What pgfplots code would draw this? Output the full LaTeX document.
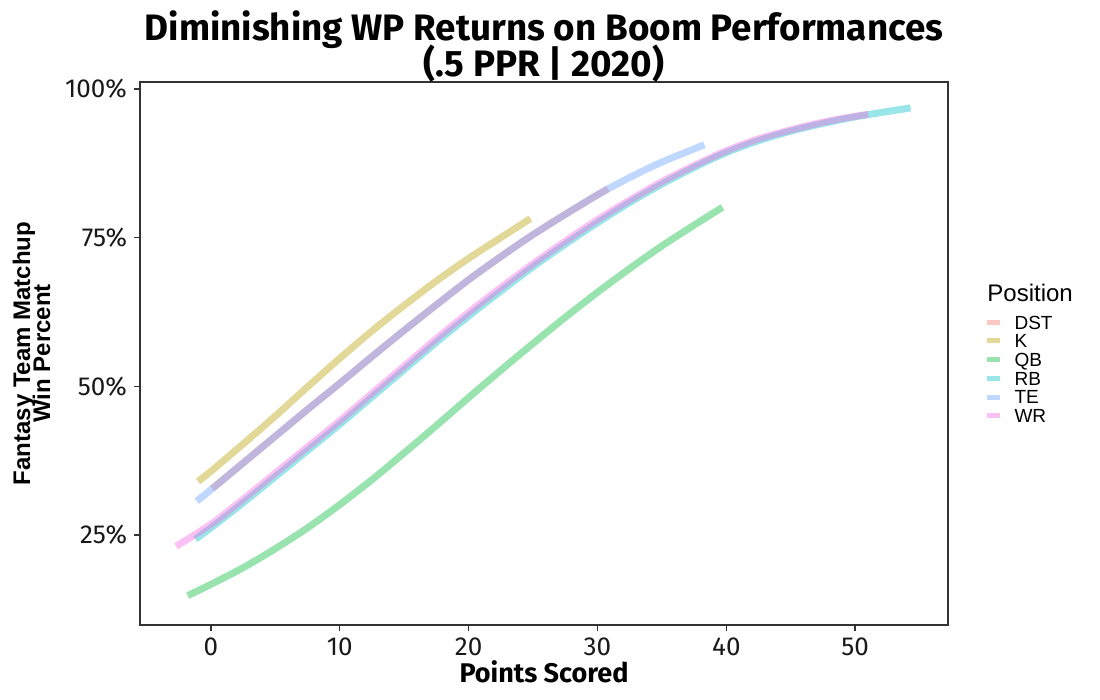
\documentclass[border=0pt]{standalone}
\usepackage{fontspec}
\setmainfont{Fira Sans}
\newfontfamily\arial{Liberation Sans}
\usepackage{pgfplots}
\pgfplotsset{compat=1.18}

\definecolor{cDST}{HTML}{F8766D}
\definecolor{cK}{HTML}{B79F00}
\definecolor{cQB}{HTML}{00BA38}
\definecolor{cRB}{HTML}{00BFC4}
\definecolor{cTE}{HTML}{619CFF}
\definecolor{cWR}{HTML}{F564E3}
\definecolor{axgray}{HTML}{333333}

\pgfplotsset{
  wp/.style={draw=#1, draw opacity=0.4, line width=3.5bp, line join=round, smooth, no marks},
}

\begin{document}
\begin{tikzpicture}
\useasboundingbox (0,0) rectangle (550bp,350bp);

\begin{axis}[
  at={(70bp,37.5bp)}, anchor=south west,
  scale only axis,
  width=404bp, height=271.5bp,
  xmin=-5.5, xmax=57.2,
  ymin=9.87, ymax=101.16,
  xtick={0,10,20,30,40,50},
  ytick={25,50,75,100},
  yticklabels={25\%,50\%,75\%,100\%},
  tick align=outside,
  xtick pos=bottom, ytick pos=left,
  major tick length=3bp,
  axis line style={draw=axgray, line width=0.75bp},
  tick style={draw=axgray, line width=0.75bp},
  tick label style={font=\fontsize{13bp}{13bp}\selectfont, text=black!90},
  /pgf/number format/assume math mode=true,
  legend cell align=left,
  legend image code/.code={
    \draw[#1, line width=2.5bp] (0bp,0bp) -- (6.5bp,0bp);
    \path[draw=none] (0bp,0bp) -- (14bp,0bp);
  },
  legend style={
    at={(1.0446,0.570)}, anchor=north west,
    draw=none, fill=none, inner sep=0pt, outer sep=0pt,
    row sep=2.55bp,
    font=\arial\fontsize{9.5bp}{9.5bp}\selectfont,
    nodes={inner sep=0pt, text height=6.8bp, text depth=0pt},
  },
]

% DST
\addplot[wp=cDST] coordinates {
  (0.1,32.8) (2.5,37.1) (5,41.6) (7.5,46.1) (10,50.5) (12.5,55.0) (15,59.4)
  (17.5,63.7) (20,67.9) (22.5,71.8) (25,75.5) (27.5,78.9) (30.8,83.2)
};
\addlegendentry{DST}

% K
\addplot[wp=cK] coordinates {
  (-1,34.0) (0,35.7) (2.5,40.3) (5,45.0) (7.5,49.9) (10,54.7) (12.5,59.3)
  (15,63.6) (17.5,67.7) (20,71.5) (22.5,75.0) (24.8,78.2)
};
\addlegendentry{K}

% QB
\addplot[wp=cQB] coordinates {
  (-1.8,14.8) (0,16.7) (2.5,19.5) (5,22.7) (7.5,26.2) (10,30.1) (12.5,34.3)
  (15,38.8) (17.5,43.4) (20,48.1) (22.5,52.7) (25,57.2) (27.5,61.6)
  (30,65.8) (32.5,69.8) (35,73.6) (37.5,77.1) (39.7,80.1)
};
\addlegendentry{QB}

% RB
\addplot[wp=cRB] coordinates {
  (-1.2,24.3) (0,26.2) (2.5,30.4) (5,34.8) (7.5,39.2) (10,43.6) (12.5,48.2)
  (15,52.8) (17.5,57.4) (20,61.8) (22.5,66.0) (25,70.1) (27.5,73.9)
  (30,77.5) (32.5,80.9) (35,84.0) (37.5,86.8) (40,89.3) (42.5,91.3)
  (45,92.9) (47.5,94.2) (50,95.3) (52.5,96.2) (54.3,96.8)
};
\addlegendentry{RB}

% TE
\addplot[wp=cTE] coordinates {
  (-1.1,30.7) (0,32.6) (2.5,37.1) (5,41.6) (7.5,46.1) (10,50.5) (12.5,55.0)
  (15,59.4) (17.5,63.7) (20,67.9) (22.5,71.8) (25,75.5) (27.5,78.9)
  (30,82.2) (32.5,85.1) (35,87.7) (38.3,90.6)
};
\addlegendentry{TE}

% WR
\addplot[wp=cWR] coordinates {
  (-2.7,23.1) (0,26.8) (2.5,31.0) (5,35.4) (7.5,39.8) (10,44.2) (12.5,48.8)
  (15,53.4) (17.5,58.0) (20,62.4) (22.5,66.6) (25,70.6) (27.5,74.4)
  (30,78.0) (32.5,81.3) (35,84.4) (37.5,87.1) (40,89.6) (42.5,91.6)
  (45,93.1) (47.5,94.4) (50,95.4) (51.0,95.7)
};
\addlegendentry{WR}

\end{axis}

% titles and labels
\node[anchor=base, inner sep=0pt, font=\bfseries\fontsize{18.4bp}{18.4bp}\selectfont] at (272bp,329.5bp)
  {Diminishing WP Returns on Boom Performances};
\node[anchor=base, inner sep=0pt, font=\bfseries\fontsize{18.4bp}{18.4bp}\selectfont] at (272bp,311.5bp)
  {(.5 PPR | 2020)};
\node[anchor=base, inner sep=0pt, font=\bfseries\fontsize{13.5bp}{13.5bp}\selectfont] at (272bp,9bp)
  {Points Scored};
\node[rotate=90, anchor=base, inner sep=0pt, font=\arial\bfseries\fontsize{12bp}{12bp}\selectfont] at (15bp,173.25bp)
  {Fantasy Team Matchup};
\node[rotate=90, anchor=base, inner sep=0pt, font=\arial\bfseries\fontsize{12bp}{12bp}\selectfont] at (25bp,173.25bp)
  {Win Percent};
\node[anchor=base west, inner sep=0pt, font=\arial\fontsize{12bp}{12bp}\selectfont] at (493.5bp,199.2bp)
  {Position};
\end{tikzpicture}
\end{document}
